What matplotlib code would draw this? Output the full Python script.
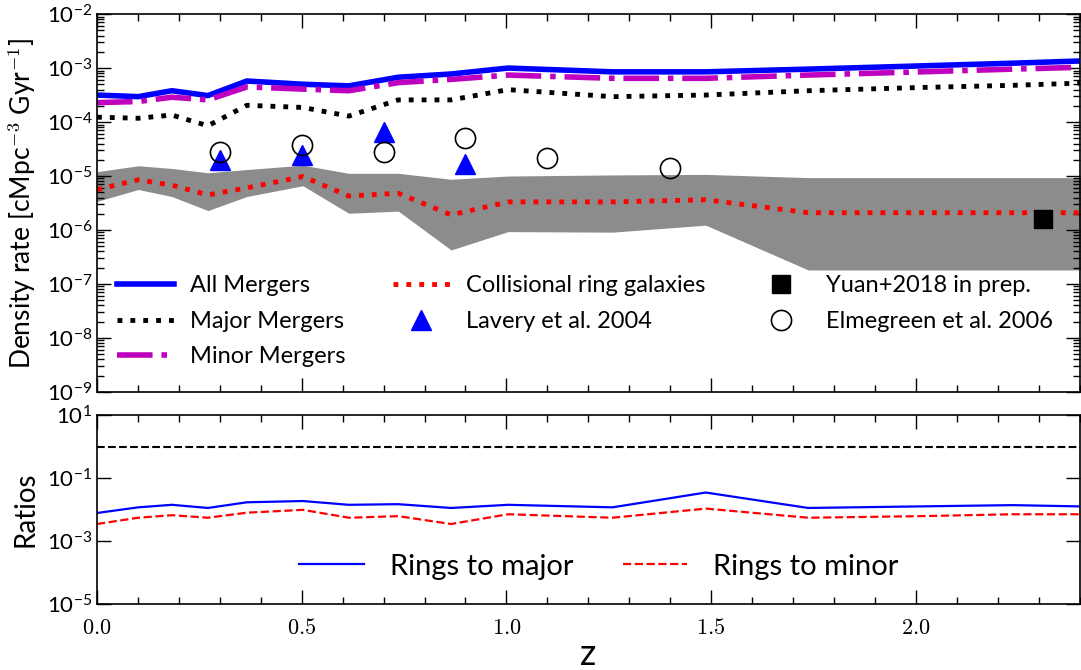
import matplotlib
matplotlib.use('agg')
import matplotlib.pyplot as plt
import numpy as np
from matplotlib import ticker

plt.rcParams['mathtext.fontset'] = 'cm'
plt.rcParams['font.family'] = 'Lato'

######## snapshot redshifts and rates (log10, cMpc^-3 Gyr^-1) ########
z = [0.0, 0.101, 0.183, 0.271, 0.366, 0.503, 0.615, 0.736, 0.865, 1.004,
     1.259, 1.487, 1.737, 2.012, 2.237, 2.478]

log_all   = [-3.50, -3.53, -3.42, -3.51, -3.24, -3.30, -3.33, -3.17, -3.11, -3.00,
             -3.07, -3.07, -3.02, -2.96, -2.91, -2.85]
log_minor = [-3.64, -3.62, -3.54, -3.59, -3.35, -3.39, -3.42, -3.27, -3.21, -3.13,
             -3.19, -3.19, -3.13, -3.07, -3.02, -2.97]
log_major = [-3.91, -3.93, -3.87, -4.07, -3.69, -3.73, -3.89, -3.59, -3.59, -3.40,
             -3.53, -3.50, -3.42, -3.36, -3.32, -3.26]
log_rings = [-5.25, -5.07, -5.17, -5.35, -5.22, -5.01, -5.37, -5.32, -5.72, -5.48,
             -5.48, -5.44, -5.68, -5.68, -5.68, -5.68]
log_rings_hi = [-4.92, -4.81, -4.86, -4.94, -4.88, -4.80, -4.95, -4.95, -5.06, -5.00,
                -4.98, -4.97, -5.03, -5.03, -5.03, -5.03]
log_rings_lo = [-5.47, -5.25, -5.38, -5.64, -5.38, -5.18, -5.69, -5.65, -6.37, -6.03,
                -6.04, -5.91, -6.74, -6.74, -6.74, -6.74]

# ratios (log10)
log_ring_major = [-2.11, -1.93, -1.85, -1.95, -1.77, -1.73, -1.85, -1.83, -1.95, -1.85,
                  -1.93, -1.46, -1.95, -1.90, -1.86, -1.92]
log_ring_minor = [-2.46, -2.26, -2.18, -2.26, -2.10, -2.01, -2.26, -2.21, -2.46, -2.15,
                  -2.26, -1.97, -2.26, -2.21, -2.15, -2.15]

# observations
lavery_z = [0.3, 0.5, 0.7, 0.9]
lavery_log = [-4.70, -4.61, -4.18, -4.78]
elme_z = [0.3, 0.5, 0.7, 0.9, 1.1, 1.4]
elme_log = [-4.55, -4.43, -4.55, -4.29, -4.67, -4.85]
yuan_z = [2.31]
yuan_log = [-5.80]

def lin(a):
    return 10.0**np.array(a)

fig = plt.figure(figsize=(10.81, 6.70), dpi=100)
ax1 = fig.add_axes([0.0897, 0.415, 0.909, 0.564])
ax2 = fig.add_axes([0.0897, 0.0985, 0.909, 0.282])

######## top panel ########
ax1.fill_between(z, lin(log_rings_lo), lin(log_rings_hi), color='#8c8c8c', lw=0)
ax1.plot(z, lin(log_all), '-', color='b', lw=4, label='All Mergers')
ax1.plot(z, lin(log_major), ':', color='k', lw=3.5, label='Major Mergers')
ax1.plot(z, lin(log_minor), '-.', color='m', lw=4, label='Minor Mergers')
ax1.plot(z, lin(log_rings), ':', color='r', lw=3.5, label='Collisional ring galaxies')
ax1.plot(lavery_z, lin(lavery_log), '^', color='b', ms=14, mec='b', ls='none',
         label='Lavery et al. 2004')
ax1.plot(yuan_z, lin(yuan_log), 's', color='k', ms=13, ls='none',
         label='Yuan+2018 in prep.')
ax1.plot(elme_z, lin(elme_log), 'o', mfc='none', mec='k', mew=1.2, ms=14.5, ls='none',
         label='Elmegreen et al. 2006')

ax1.set_yscale('log')
ax1.set_ylim(1e-9, 1e-2)
ax1.set_xlim(0, 2.4)
ax1.set_ylabel(r'Density rate [cMpc$^{-3}$ Gyr$^{-1}$]', fontsize=19, labelpad=6)
ax1.yaxis.set_major_locator(ticker.LogLocator(base=10, numticks=20))
ax1.yaxis.set_minor_locator(ticker.LogLocator(base=10, subs=np.arange(2, 10), numticks=20))
leg1 = ax1.legend(loc='upper left', bbox_to_anchor=(0.011, 0.334), borderaxespad=0,
                  ncol=3, frameon=False, fontsize=17, handlelength=2.4,
                  columnspacing=2.0, labelspacing=0.62, handletextpad=0.7, numpoints=1)

######## bottom panel ########
ax2.plot([0, 2.4], [1, 1], '--', color='k', lw=1.5)
ax2.plot(z, lin(log_ring_major), '-', color='b', lw=1.6, label='Rings to major')
ax2.plot(z, lin(log_ring_minor), '--', color='r', lw=1.6, label='Rings to minor')
ax2.set_yscale('log')
ax2.set_ylim(1e-5, 1e1)
ax2.set_xlim(0, 2.4)
ax2.yaxis.set_major_locator(ticker.FixedLocator([1e-5, 1e-3, 1e-1, 1e1]))
ax2.yaxis.set_minor_locator(ticker.NullLocator())
ax2.set_ylabel('Ratios', fontsize=20, labelpad=6)
ax2.set_xlabel('z', fontsize=26, labelpad=0)
ax2.legend(loc='lower center', bbox_to_anchor=(0.511, -0.01), ncol=2, frameon=False,
           fontsize=21, handlelength=2.2, columnspacing=1.7, handletextpad=0.9)

for ax in (ax1, ax2):
    ax.xaxis.set_major_locator(ticker.MultipleLocator(0.5))
    ax.xaxis.set_minor_locator(ticker.MultipleLocator(0.1))
    ax.xaxis.set_major_formatter(ticker.FormatStrFormatter(r'$%.1f$'))
    ax.tick_params(which='both', direction='in', top=True, right=True, labelsize=16)
    ax.tick_params(which='major', length=10, width=1)
    ax.tick_params(which='minor', length=5, width=1)
    ax.tick_params(axis='x', pad=10)
    for s in ax.spines.values():
        s.set_linewidth(1.2)
ax1.tick_params(axis='x', labelbottom=False)

fig.savefig('out.png', dpi=100)
